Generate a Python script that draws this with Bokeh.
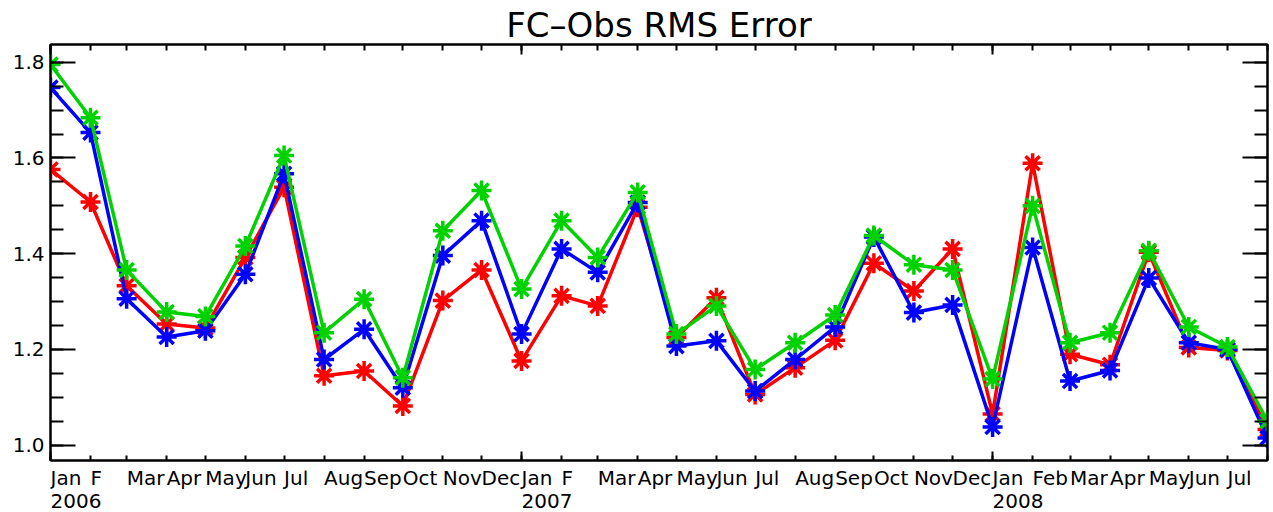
import pandas as pd
from bokeh.plotting import figure
from bokeh.layouts import column
from bokeh.models import (Range1d, LinearAxis, FixedTicker,
                          CustomJSTickFormatter, PrintfTickFormatter)
from bokeh.core.properties import value
from bokeh.embed import file_html
from bokeh.resources import INLINE

# ---- data -----------------------------------------------------------------
month_starts = [
    "2006-01-01", "2006-02-01", "2006-03-01", "2006-04-01", "2006-05-01", "2006-06-01",
    "2006-07-01", "2006-08-01", "2006-09-01", "2006-10-01", "2006-11-01", "2006-12-01",
    "2007-01-01", "2007-02-01", "2007-03-01", "2007-04-01", "2007-05-01", "2007-06-01",
    "2007-07-01", "2007-08-01", "2007-09-01", "2007-10-01", "2007-11-01", "2007-12-01",
    "2008-01-01", "2008-02-01", "2008-03-01", "2008-04-01", "2008-05-01", "2008-06-01",
    "2008-07-01", "2008-08-01",
]
red_rms = [1.576, 1.508, 1.333, 1.253, 1.245, 1.392, 1.539, 1.145, 1.155, 1.082, 1.302, 1.366,
           1.176, 1.312, 1.291, 1.497, 1.225, 1.308, 1.106, 1.162, 1.219, 1.380, 1.322, 1.410,
           1.065, 1.589, 1.190, 1.168, 1.403, 1.204, 1.198, 1.033]
blue_rms = [1.747, 1.653, 1.306, 1.226, 1.239, 1.357, 1.567, 1.179, 1.242, 1.120, 1.396, 1.469,
            1.232, 1.410, 1.361, 1.507, 1.207, 1.218, 1.113, 1.179, 1.247, 1.435, 1.277, 1.293,
            1.038, 1.413, 1.134, 1.156, 1.349, 1.214, 1.200, 1.015]
green_rms = [1.795, 1.684, 1.366, 1.278, 1.269, 1.416, 1.605, 1.235, 1.305, 1.141, 1.448, 1.532,
             1.326, 1.469, 1.392, 1.528, 1.232, 1.291, 1.158, 1.214, 1.272, 1.438, 1.377, 1.366,
             1.138, 1.500, 1.214, 1.235, 1.406, 1.247, 1.205, 1.050]

month_labels = ["Jan", "F", "Mar", "Apr", "May", "Jun", "Jul", "Aug", "Sep", "Oct", "Nov", "Dec",
                "Jan", "F", "Mar", "Apr", "May", "Jun", "Jul", "Aug", "Sep", "Oct", "Nov", "Dec",
                "Jan", "Feb", "Mar", "Apr", "May", "Jun", "Jul"]
year_labels = ["2006", "2007", "2008"]
year_starts = ["2006-01-01", "2007-01-01", "2008-01-01"]
y_ticks = [1.0, 1.2, 1.4, 1.6, 1.8]
y_minor_ticks = [0.95, 1.0, 1.05, 1.1, 1.15, 1.2, 1.25, 1.3, 1.35, 1.4, 1.45, 1.5,
                 1.55, 1.6, 1.65, 1.7, 1.75, 1.8, 1.85]
title_text = "FC\u2013Obs RMS Error"

# ---- helpers --------------------------------------------------------------
def to_ms(dates):
    return [int(v) // 10**6 for v in pd.to_datetime(dates).astype("int64")]

xs = to_ms(month_starts)
xs_year = to_ms(year_starts)

FONT = "DejaVu Sans"
GREEN = "#00d200"

W = 1273
BL, BR = 50, 6
H_MAIN, BT, BB = 470, 44, 10
H_LAB = 42
x_range = Range1d(xs[0], xs[-1])

p = figure(width=W, height=H_MAIN, output_backend="svg", toolbar_location=None,
           x_axis_type=None, y_axis_type=None,
           x_range=x_range, y_range=Range1d(0.968, 1.837),
           min_border_left=BL, min_border_right=BR, min_border_top=BT, min_border_bottom=BB)
p.background_fill_color = "white"
p.border_fill_color = "white"
p.outline_line_color = "black"
p.outline_line_width = 2

p.title.text = title_text
p.title.align = "center"
p.title.text_font = FONT
p.title.text_font_size = "34px"
p.title.text_font_style = "normal"
p.title.text_color = "black"
p.title.standoff = 0

empty = CustomJSTickFormatter(code="return ''")

def style_axis(ax):
    ax.axis_line_color = "black"
    ax.axis_line_width = 2
    ax.major_tick_line_color = "black"
    ax.minor_tick_line_color = "black"
    ax.major_tick_line_width = 2
    ax.minor_tick_line_width = 2
    ax.major_tick_out = 0
    ax.minor_tick_out = 0

# left
yl = LinearAxis(ticker=FixedTicker(ticks=y_ticks, minor_ticks=y_minor_ticks),
                formatter=PrintfTickFormatter(format="%.1f"))
style_axis(yl)
yl.major_tick_in = 25
yl.minor_tick_in = 13
yl.major_label_standoff = 6
yl.major_label_text_font = FONT
yl.major_label_text_font_size = "20px"
yl.major_label_text_color = "black"
p.add_layout(yl, "left")

# right
yr = LinearAxis(ticker=FixedTicker(ticks=y_ticks, minor_ticks=y_minor_ticks), formatter=empty)
style_axis(yr)
yr.major_tick_in = 25
yr.minor_tick_in = 13
yr.major_label_standoff = 0
yr.major_label_text_font_size = "0px"
p.add_layout(yr, "right")

# top / bottom month ticks
for loc, maj, mnr in (("above", 10, 6), ("below", 9, 5)):
    ax = LinearAxis(ticker=FixedTicker(ticks=xs_year, minor_ticks=xs), formatter=empty)
    style_axis(ax)
    ax.major_tick_in = maj
    ax.minor_tick_in = mnr
    ax.major_label_standoff = 0
    ax.major_label_text_font_size = "0px"
    p.add_layout(ax, loc)

# series
for vals, col in ((red_rms, "red"), (blue_rms, "blue"), (green_rms, GREEN)):
    p.line(xs, vals, line_color=col, line_width=3.5)
    p.scatter(xs, vals, marker="asterisk", size=20, line_color=col, line_width=3.5)

# ---- date labels strip (shares the x scale) ------------------------------
q = figure(width=W, height=H_LAB, output_backend="svg", toolbar_location=None,
           title=None, x_axis_type=None, y_axis_type=None,
           x_range=x_range, y_range=Range1d(0, H_LAB),
           min_border_left=BL, min_border_right=BR, min_border_top=0, min_border_bottom=0)
q.outline_line_color = None
q.background_fill_color = "white"
q.border_fill_color = "white"
q.text(x=xs[:len(month_labels)], y=[H_LAB - 7] * len(month_labels), text=month_labels,
       text_align="left", text_baseline="alphabetic", text_font=value(FONT),
       text_font_size="20px", text_color="black")
q.text(x=xs_year, y=[H_LAB - 30] * len(year_labels), text=year_labels,
       text_align="left", text_baseline="alphabetic", text_font=value(FONT),
       text_font_size="20px", text_color="black")

layout = column(p, q, spacing=0)
open("out.html", "w").write(file_html(layout, INLINE))
